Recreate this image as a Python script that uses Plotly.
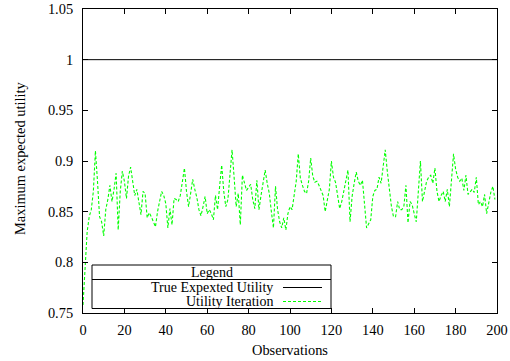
import plotly.graph_objects as go

observations = list(range(200))
utility_iteration = [
    0.758, 0.800, 0.830, 0.845, 0.852, 0.870, 0.910, 0.880, 0.845, 0.840,
    0.826, 0.852, 0.862, 0.876, 0.860, 0.872, 0.888, 0.832, 0.870, 0.890,
    0.880, 0.863, 0.885, 0.894, 0.880, 0.866, 0.872, 0.858, 0.847, 0.870,
    0.868, 0.844, 0.849, 0.845, 0.840, 0.835, 0.850, 0.862, 0.870, 0.866,
    0.858, 0.834, 0.853, 0.837, 0.863, 0.862, 0.860, 0.866, 0.878, 0.893,
    0.870, 0.855, 0.868, 0.882, 0.872, 0.864, 0.852, 0.846, 0.855, 0.865,
    0.848, 0.852, 0.848, 0.842, 0.866, 0.852, 0.875, 0.896, 0.870, 0.855,
    0.862, 0.890, 0.911, 0.884, 0.855, 0.868, 0.837, 0.886, 0.878, 0.871,
    0.874, 0.877, 0.862, 0.853, 0.881, 0.852, 0.866, 0.880, 0.891, 0.878,
    0.868, 0.850, 0.834, 0.875, 0.852, 0.840, 0.834, 0.844, 0.832, 0.848,
    0.855, 0.852, 0.865, 0.880, 0.907, 0.883, 0.876, 0.870, 0.868, 0.880,
    0.903, 0.885, 0.879, 0.880, 0.876, 0.871, 0.866, 0.850, 0.862, 0.872,
    0.900, 0.884, 0.879, 0.865, 0.853, 0.860, 0.871, 0.882, 0.891, 0.840,
    0.865, 0.878, 0.889, 0.880, 0.876, 0.881, 0.860, 0.834, 0.838, 0.842,
    0.865, 0.871, 0.872, 0.884, 0.878, 0.895, 0.911, 0.890, 0.870, 0.855,
    0.845, 0.845, 0.860, 0.852, 0.852, 0.855, 0.876, 0.839, 0.860, 0.857,
    0.848, 0.840, 0.870, 0.900, 0.860, 0.870, 0.880, 0.884, 0.886, 0.878,
    0.893, 0.870, 0.860, 0.866, 0.870, 0.860, 0.872, 0.855, 0.885, 0.907,
    0.892, 0.884, 0.880, 0.883, 0.871, 0.886, 0.867, 0.870, 0.872, 0.869,
    0.884, 0.857, 0.860, 0.855, 0.867, 0.848, 0.860, 0.869, 0.875, 0.862,
]
true_x = [0, 200]
true_utility = [1.0, 1.0]

x_ticks = [0, 20, 40, 60, 80, 100, 120, 140, 160, 180, 200]
y_ticks = [0.75, 0.8, 0.85, 0.9, 0.95, 1.0, 1.05]
y_tick_text = ["0.75", "0.8", "0.85", "0.9", "0.95", "1", "1.05"]
legend_labels = ["True Expexted Utility", "Utility Iteration"]

FONT = "'Liberation Serif', 'Times New Roman', serif"
FS = 14.4
LFS = 14
GREEN = "#00ff00"

fig = go.Figure()
fig.add_trace(go.Scatter(x=true_x, y=true_utility, mode="lines",
                         line=dict(color="black", width=1), showlegend=False))
fig.add_trace(go.Scatter(x=observations, y=utility_iteration, mode="lines",
                         line=dict(color=GREEN, width=1.1, dash="3px,2px"), showlegend=False))

W, H = 510, 361
L, R, T, B = 83, 13, 9, 48
pw, ph = W - L - R, H - T - B

def px(x):
    return (x - L) / pw

def py(y):
    return (H - B - y) / ph

shapes = []
shapes.append(dict(type="rect", xref="paper", yref="paper",
                   x0=px(92), x1=px(331), y0=py(308.5), y1=py(265),
                   line=dict(color="black", width=1), fillcolor="white", layer="above"))
shapes.append(dict(type="line", xref="paper", yref="paper",
                   x0=px(92), x1=px(331), y0=py(279.5), y1=py(279.5),
                   line=dict(color="black", width=1), layer="above"))
shapes.append(dict(type="line", xref="paper", yref="paper",
                   x0=px(283), x1=px(322), y0=py(287.5), y1=py(287.5),
                   line=dict(color="black", width=1), layer="above"))
shapes.append(dict(type="line", xref="paper", yref="paper",
                   x0=px(283), x1=px(322), y0=py(301.5), y1=py(301.5),
                   line=dict(color=GREEN, width=1.1, dash="3px,2px"), layer="above"))

annotations = [
    dict(text="Legend", xref="paper", yref="paper", x=px(211.5), y=py(272),
         xanchor="center", yanchor="middle", showarrow=False,
         font=dict(size=LFS, family=FONT), borderpad=0),
    dict(text=legend_labels[0], xref="paper", yref="paper", x=px(274), y=py(287.5),
         xanchor="right", yanchor="middle", showarrow=False,
         font=dict(size=LFS, family=FONT), borderpad=0),
    dict(text=legend_labels[1], xref="paper", yref="paper", x=px(274), y=py(301.5),
         xanchor="right", yanchor="middle", showarrow=False,
         font=dict(size=LFS, family=FONT), borderpad=0),
    dict(text="Observations", xref="paper", yref="paper", x=0.5, y=py(350),
         xanchor="center", yanchor="middle", showarrow=False,
         font=dict(size=FS, family=FONT)),
    dict(text="Maximum expected utility", xref="paper", yref="paper", x=px(20), y=py(158),
         xanchor="center", yanchor="middle", textangle=-90, showarrow=False,
         font=dict(size=FS, family=FONT)),
]

axis_common = dict(showgrid=False, zeroline=False, showline=True, linecolor="black",
                   linewidth=1, mirror="ticks", ticks="inside", ticklen=5, tickwidth=1,
                   tickcolor="black", automargin=False,
                   tickfont=dict(size=FS, color="black", family=FONT))

fig.update_layout(
    template="none",
    width=W, height=H,
    margin=dict(l=L, r=R, t=T, b=B, pad=0),
    paper_bgcolor="white", plot_bgcolor="white",
    font=dict(family=FONT, color="black", size=FS),
    xaxis=dict(range=[0, 200], tickvals=x_ticks, ticklabelstandoff=4, **axis_common),
    yaxis=dict(range=[0.75, 1.05], tickvals=y_ticks, ticktext=y_tick_text,
               ticklabelstandoff=6, **axis_common),
    shapes=shapes, annotations=annotations,
    showlegend=False,
)

fig.write_html("out.html")
